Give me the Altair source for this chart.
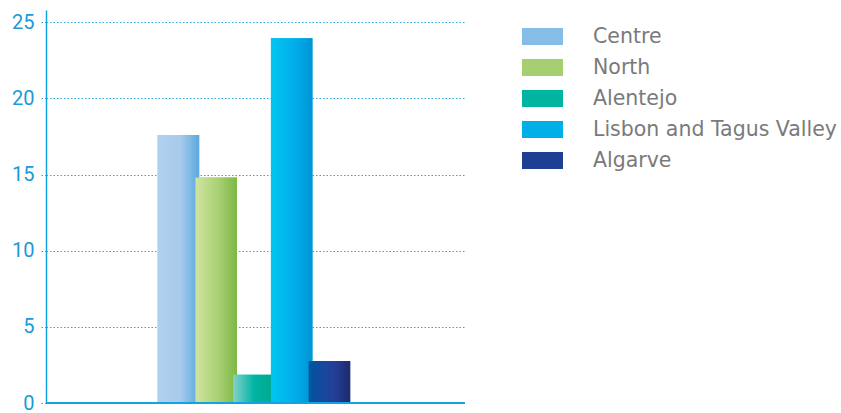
import altair as alt
import pandas as pd

regions = ["Centre", "North", "Alentejo", "Lisbon and Tagus Valley", "Algarve"]
values = [17.6, 14.8, 1.85, 23.95, 2.75]
legend_colors = ["#84bde6", "#a6cf72", "#00b59f", "#00aee8", "#1f3f92"]
gradient_stops = [
    [("#b0d0ee", 0.0), ("#a8cbec", 0.55), ("#5aa8de", 1.0)],
    [("#d0e4a2", 0.0), ("#a9d074", 0.55), ("#7cb844", 1.0)],
    [("#84d2ca", 0.0), ("#00b4a4", 0.5), ("#00a88c", 1.0)],
    [("#00c5f2", 0.0), ("#00b2ea", 0.5), ("#0093d7", 1.0)],
    [("#0056a2", 0.0), ("#253f98", 0.6), ("#1c2a70", 1.0)],
]
y_ticks = [0, 5, 10, 15, 20, 25]

df = pd.DataFrame({"region": regions, "value": values})

x_enc = alt.X("group:N", axis=None,
              scale=alt.Scale(paddingInner=0, paddingOuter=0.61, align=0.526))
xo_enc = alt.XOffset("region:N", sort=regions,
                     scale=alt.Scale(paddingInner=0, paddingOuter=0))
y_enc = alt.Y("value:Q", scale=alt.Scale(domain=[0, 25.8], nice=False, zero=True),
              axis=alt.Axis(values=y_ticks, title=None,
                            grid=True, gridColor="#29a9e0", gridDash=[1.5, 2],
                            gridWidth=1.2, domainColor="#12a4e0", domainWidth=1.5,
                            tickColor="#29a9e0", tickDash=[1.5, 2], tickSize=5,
                            labelColor="#1a9ad6", labelFont="Roboto",
                            labelFontSize=20, labelPadding=7))

base = alt.Chart(df).transform_calculate(group="'all'").mark_bar(
    width=alt.RelativeBandSize(1.1)).encode(
    x=x_enc, xOffset=xo_enc, y=y_enc,
    color=alt.Color("region:N", sort=regions,
                    scale=alt.Scale(domain=regions, range=legend_colors),
                    legend=alt.Legend(title=None, orient="none", legendX=476, legendY=6,
                                      symbolType="M-1,-0.42H1V0.42H-1Z", symbolSize=1681,
                                      symbolStrokeWidth=0, symbolOpacity=1,
                                      labelFont="DejaVu Sans", labelFontSize=20.5,
                                      labelColor="#7a7a7a", labelOffset=30,
                                      labelLimit=400, rowPadding=0)),
)

layers = [base]
for r, stops in zip(regions, gradient_stops):
    grad = alt.Gradient(gradient="linear", x1=0, x2=1, y1=0, y2=0,
                        stops=[alt.GradientStop(color=c, offset=o) for c, o in stops])
    layers.append(
        alt.Chart(df).transform_calculate(group="'all'")
        .transform_filter(alt.datum.region == r)
        .mark_bar(width=alt.RelativeBandSize(1.1), color=grad)
        .encode(x=x_enc, xOffset=xo_enc, y=y_enc)
    )

baseline = alt.Chart(df).mark_rule(color="#12a4e0", strokeWidth=2).encode(
    y=alt.datum(0))
layers.append(baseline)

chart = alt.layer(*layers).properties(
    width=419, height=393,
    autosize=alt.AutoSizeParams(type="none"),
    padding={"left": 46, "top": 10, "right": 376, "bottom": 10},
).configure_view(stroke=None)

chart.save("out.html", embed_options={"renderer": "svg", "actions": False})
